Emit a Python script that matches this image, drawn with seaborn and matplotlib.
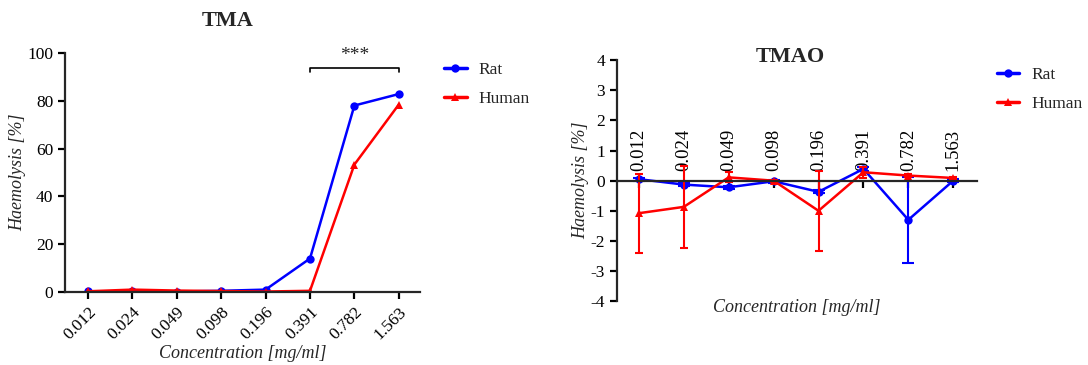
import matplotlib
matplotlib.use("Agg")
import matplotlib.pyplot as plt
import numpy as np
import pandas as pd
import seaborn as sns
from matplotlib.lines import Line2D

concentrations = ["0.012", "0.024", "0.049", "0.098", "0.196", "0.391", "0.782", "1.563"]

# TMA haemolysis [%]
tma_rat = [0.3, 0.3, 0.2, 0.5, 1.0, 14.0, 78.0, 82.8]
tma_human = [0.3, 1.0, 0.6, 0.4, 0.2, 0.5, 53.3, 78.4]

# TMAO haemolysis [%] with error (SD)
tmao_rat = [0.05, -0.13, -0.22, -0.02, -0.37, 0.39, -1.30, 0.0]
tmao_rat_err = [0.05, 0.05, 0.05, 0.05, 0.05, 0.08, 1.42, 0.05]
tmao_human = [-1.08, -0.87, 0.11, 0.0, -1.0, 0.28, 0.17, 0.09]
tmao_human_err = [1.31, 1.35, 0.17, 0.03, 1.33, 0.19, 0.05, 0.04]

species = ["Rat", "Human"]
palette = {"Rat": "#0000ff", "Human": "#ff0000"}
markers = {"Rat": "o", "Human": "^"}


def to_long(rat, human):
    idx = np.arange(len(concentrations))
    return pd.concat([
        pd.DataFrame({"x": idx, "y": rat, "species": "Rat"}),
        pd.DataFrame({"x": idx, "y": human, "species": "Human"}),
    ], ignore_index=True)


sns.set_style("ticks")
plt.rcParams["font.family"] = ["Liberation Serif", "DejaVu Serif"]
plt.rcParams["axes.linewidth"] = 1.6
plt.rcParams["axes.unicode_minus"] = False

fig = plt.figure(figsize=(10.88, 3.65), dpi=100)
ax1 = fig.add_axes([0.0597, 0.2, 0.326, 0.655])
ax2 = fig.add_axes([0.567, 0.175, 0.331, 0.66])

# ---- TMA ----
df_tma = to_long(tma_rat, tma_human)
sns.lineplot(data=df_tma, x="x", y="y", hue="species", style="species",
             hue_order=species, style_order=species, palette=palette,
             markers=markers, dashes=False, markersize=6, linewidth=1.8,
             markeredgewidth=0, ax=ax1, legend=False)
ax1.set_xlim(-0.52, 7.47)
ax1.set_ylim(0, 100)
ax1.set_yticks([0, 20, 40, 60, 80, 100])
ax1.set_xticks(range(len(concentrations)))
ax1.set_xticklabels(concentrations, rotation=45, ha="right", rotation_mode="anchor")
sns.despine(ax=ax1)
ax1.tick_params(axis="both", labelsize=12.5, width=1.6, length=5, colors="black")
ax1.set_xlabel("Concentration [mg/ml]", fontsize=13, style="italic", labelpad=2)
ax1.set_ylabel("Haemolysis [%]", fontsize=13, style="italic", labelpad=1)
fig.text(228 / 1088, 1 - 21 / 365, "TMA", fontsize=16, fontweight="bold",
         ha="center", va="center")

# significance bracket
ax1.plot([5, 5, 7, 7], [92.0, 93.6, 93.6, 92.0], color="black", lw=1.2, clip_on=False)
ax1.text(6, 95.5, "***", ha="center", va="bottom", fontsize=14)

# ---- TMAO ----
df_tmao = to_long(tmao_rat, tmao_human)
idx = np.arange(len(concentrations))
ax2.errorbar(idx, tmao_rat, yerr=tmao_rat_err, fmt="none", ecolor=palette["Rat"],
             elinewidth=1.5, capsize=4, capthick=1.5, zorder=2)
ax2.errorbar(idx, tmao_human, yerr=tmao_human_err, fmt="none", ecolor=palette["Human"],
             elinewidth=1.5, capsize=3, capthick=1.5, zorder=2.5)
sns.lineplot(data=df_tmao, x="x", y="y", hue="species", style="species",
             hue_order=species, style_order=species, palette=palette,
             markers=markers, dashes=False, markersize=6, linewidth=1.8,
             markeredgewidth=0, ax=ax2, legend=False)
ax2.set_xlim(-0.49, 7.53)
ax2.set_ylim(-4, 4)
ax2.set_yticks(range(-4, 5))
ax2.set_xticks(idx)
ax2.set_xticklabels(concentrations)
ax2.spines["right"].set_visible(False)
ax2.spines["bottom"].set_position(("data", 0))
ax2.spines["top"].set_position(("data", 0))
ax2.spines["top"].set_visible(False)
ax2.tick_params(axis="x", bottom=True, top=False, labelbottom=False, labeltop=True,
                labelrotation=90, pad=2, labelsize=13.5)
ax2.tick_params(axis="y", labelsize=12.5)
ax2.tick_params(axis="both", width=1.6, length=5, colors="black")
ax2.set_xlabel("Concentration [mg/ml]", fontsize=13, style="italic")
ax2.xaxis.set_label_position("bottom")
ax2.xaxis.set_label_coords(0.5, 0.01, transform=ax2.transAxes)
ax2.xaxis.label.set_va("top")
ax2.set_ylabel("Haemolysis [%]", fontsize=13, style="italic", labelpad=1)
fig.text(790 / 1088, 1 - 57 / 365, "TMAO", fontsize=16, fontweight="bold",
         ha="center", va="center")

# legends
handles = [Line2D([], [], color=palette[s], marker=markers[s], lw=2.5, markersize=6,
                  markeredgewidth=0) for s in species]
ax1.legend(handles, species, loc="upper left", bbox_to_anchor=(0.405, 0.84),
           bbox_transform=fig.transFigure, frameon=False, fontsize=12.5,
           handlelength=1.3, handletextpad=0.7, labelspacing=0.75,
           borderaxespad=0, borderpad=0.2)
ax2.legend(handles, species, loc="upper left", bbox_to_anchor=(0.913, 0.827),
           bbox_transform=fig.transFigure, frameon=False, fontsize=12.5,
           handlelength=1.3, handletextpad=0.7, labelspacing=0.75,
           borderaxespad=0, borderpad=0.2)

fig.savefig("out.png", dpi=100)
